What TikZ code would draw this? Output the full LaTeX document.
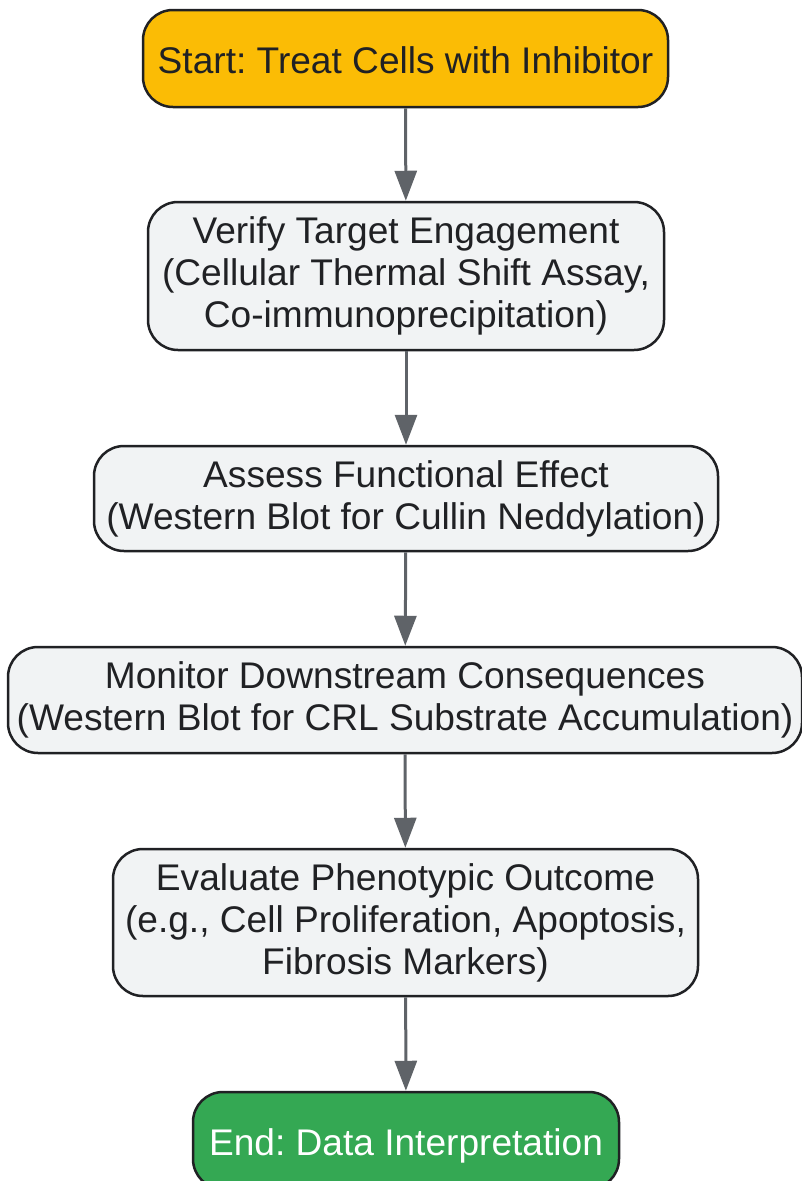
\documentclass[tikz,border=0pt]{standalone}
\usepackage{fontspec}
\setmainfont{Liberation Sans}
\frenchspacing
\definecolor{startyellow}{RGB}{251, 188, 5}
\definecolor{endgreen}{RGB}{52, 168, 83}
\definecolor{boxgray}{RGB}{241, 243, 244}
\definecolor{edgedark}{RGB}{32, 33, 36}
\definecolor{arrowgray}{RGB}{95, 99, 104}
\usetikzlibrary{arrows.meta, positioning}
\tikzset{
  flowbox/.style={draw=edgedark, line width=2.5pt, rounded corners=30pt,
    fill=boxgray, text=edgedark, align=center, inner sep=0pt,
    font=\fontsize{37.1}{42}\selectfont,
    execute at begin node={\rule{0pt}{37pt}},
    execute at end node={\rule[-7.5pt]{0pt}{7.5pt}}},
  startbox/.style={flowbox, fill=startyellow},
  endbox/.style={flowbox, fill=endgreen, text=white},
  flowarrow/.style={draw=arrowgray, line width=3pt,
    -{Triangle[length=30pt, width=22pt]}}
}

\begin{document}
\begin{tikzpicture}[x=1pt, y=-1pt]
  \useasboundingbox (0, 0) rectangle (802, 1181);

  % Steps
  \node[startbox, minimum width=525pt, minimum height=97pt] (start) at (405.5, 58.5)
    {Start: Treat Cells with Inhibitor};
  \node[flowbox, minimum width=516pt, minimum height=148pt] (verify) at (406, 276)
    {Verify Target Engagement\\(Cellular Thermal Shift Assay,\\Co-immunoprecipitation)};
  \node[flowbox, minimum width=624pt, minimum height=105pt] (assess) at (406, 498.5)
    {Assess Functional Effect\\(Western Blot for Cullin Neddylation)};
  \node[flowbox, minimum width=794pt, minimum height=106pt] (monitor) at (405, 700)
    {Monitor Downstream Consequences\\(Western Blot for CRL Substrate Accumulation)};
  \node[flowbox, minimum width=585pt, minimum height=147pt] (evaluate) at (405.5, 922.5)
    {Evaluate Phenotypic Outcome\\(e.g., Cell Proliferation, Apoptosis,\\Fibrosis Markers)};
  \node[endbox, minimum width=426pt, minimum height=97pt] (end) at (406, 1140.5)
    {End: Data Interpretation};

  % Connectors
  \draw[flowarrow] (start) -- (verify);
  \draw[flowarrow] (verify) -- (assess);
  \draw[flowarrow] (assess) -- (monitor);
  \draw[flowarrow] (monitor) -- (evaluate);
  \draw[flowarrow] (evaluate) -- (end);
\end{tikzpicture}
\end{document}
